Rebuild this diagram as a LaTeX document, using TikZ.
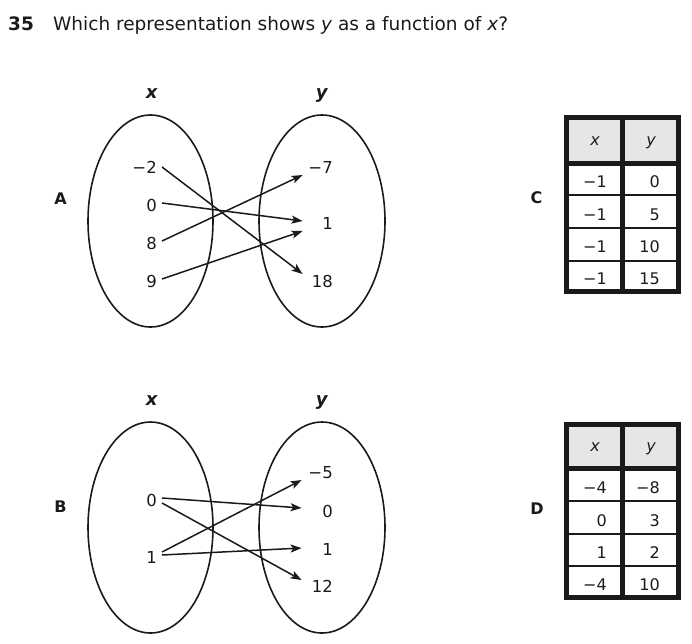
\documentclass[tikz,border=0pt]{standalone}
\usepackage{fontspec}
\setmainfont{DejaVu Sans}
\usetikzlibrary{arrows.meta,calc}
\definecolor{hdrgray}{HTML}{E6E6E6}
\definecolor{ink}{HTML}{1A1A1A}
\begin{document}
\begin{tikzpicture}[x=1pt,y=-1pt,
  every node/.style={inner sep=0pt, text=ink},
  ell/.style={draw=ink, line width=1.6pt},
  arr/.style={draw=ink, line width=1.5pt, -{Stealth[length=11pt,width=8pt,inset=2.5pt]}},
  lval/.style={font=\fontsize{16.5}{19}\selectfont, anchor=east, text height=12pt, text depth=0pt},
  rval/.style={font=\fontsize{16.5}{19}\selectfont, anchor=east, text height=12pt, text depth=0pt, text width=26pt, align=right},
  setlab/.style={font=\fontsize{18}{21}\selectfont\bfseries\itshape, anchor=base},
  optlab/.style={font=\fontsize{16}{19}\selectfont\bfseries},
  tval/.style={font=\fontsize{16}{19}\selectfont, anchor=base east},
  thead/.style={font=\fontsize{16}{19}\selectfont\itshape, anchor=base},
  thick border/.style={draw=ink, line width=5pt},
  thin border/.style={draw=ink, line width=2pt}
]
\useasboundingbox (0,0) rectangle (692,643);

% title
\node[anchor=base west, font=\fontsize{18.5}{22}\selectfont\bfseries] (qnum) at (8,30) {35};
\node[anchor=base west, font=\fontsize{18.5}{22}\selectfont] (qtext) at (53,30) {Which representation shows \textit{y} as a function of \textit{x}?};

% ---------- A ----------
\node[optlab] (labA) at (60.5,199) {A};
\node[setlab] (Ax) at (151.7,98.3) {x};
\node[setlab] (Ay) at (321.7,98.3) {y};
\draw[ell] (150.5,221) ellipse [x radius=62.5pt, y radius=106pt];
\draw[ell] (322,221) ellipse [x radius=63pt, y radius=106pt];

\node[lval] (Am2) at (157,167) {−2};
\node[lval] (A0)  at (157,205) {0};
\node[lval] (A8)  at (157,243) {8};
\node[lval] (A9)  at (157,281) {9};
\node[rval] (Am7) at (333,167) {−7};
\node[rval] (A1)  at (333,223) {1};
\node[rval] (A18) at (333,281) {18};

\draw[arr] ([xshift=5pt]Am2.east) -- ([xshift=-4pt,yshift=7pt]A18.west);
\draw[arr] ([xshift=5pt,yshift=2pt]A0.east) -- ([xshift=-4pt,yshift=2pt]A1.west);
\draw[arr] ([xshift=5pt,yshift=2pt]A8.east) -- ([xshift=-4pt,yshift=-8pt]Am7.west);
\draw[arr] ([xshift=5pt,yshift=2pt]A9.east) -- ([xshift=-4pt,yshift=-8pt]A1.west);

% ---------- B ----------
\node[optlab] (labB) at (60.5,507) {B};
\node[setlab] (Bx) at (151.7,405) {x};
\node[setlab] (By) at (321.7,405) {y};
\draw[ell] (150.5,527.5) ellipse [x radius=62.5pt, y radius=105.5pt];
\draw[ell] (322,527.5) ellipse [x radius=63pt, y radius=105.5pt];

\node[lval] (B0) at (157,500) {0};
\node[lval] (B1) at (157,557) {1};
\node[rval] (Bm5) at (333,472) {−5};
\node[rval] (Bz)  at (333,511) {0};
\node[rval] (Bo)  at (333,549) {1};
\node[rval] (B12) at (333,586) {12};

\draw[arr] ([xshift=5pt,yshift=2pt]B0.east) -- ([xshift=-5pt,yshift=3pt]Bz.west);
\draw[arr] ([xshift=5pt,yshift=-3pt]B0.east) -- ([xshift=-5pt,yshift=6pt]B12.west);
\draw[arr] ([xshift=5pt,yshift=5pt]B1.east) -- ([xshift=-5pt,yshift=-8pt]Bm5.west);
\draw[arr] ([xshift=5pt,yshift=2pt]B1.east) -- ([xshift=-5pt,yshift=1pt]Bo.west);

% ---------- C ----------
\node[optlab] (labC) at (536.5,198) {C};
\fill[hdrgray] (569,120) rectangle (677,161);
\draw[thin border] (566.5,195) -- (678.5,195);
\draw[thin border] (566.5,228) -- (678.5,228);
\draw[thin border] (566.5,261) -- (678.5,261);
\draw[thick border] (566.5,163.5) -- (678.5,163.5);
\draw[thick border] (622.5,117.5) -- (622.5,291.5);
\draw[thick border] (566.5,117.5) rectangle (678.5,291.5);
\node[thead] (Chx) at (595,145) {x};
\node[thead] (Chy) at (651,145) {y};
\node[tval] (Cx1) at (607,187) {−1};
\node[tval] (Cy1) at (660,187) {0};
\node[tval] (Cx2) at (607,220) {−1};
\node[tval] (Cy2) at (660,220) {5};
\node[tval] (Cx3) at (607,252) {−1};
\node[tval] (Cy3) at (660,252) {10};
\node[tval] (Cx4) at (607,284) {−1};
\node[tval] (Cy4) at (660,284) {15};

% ---------- D ----------
\node[optlab] (labD) at (537,508.5) {D};
\fill[hdrgray] (569,427) rectangle (677,466);
\draw[thin border] (566.5,501) -- (678.5,501);
\draw[thin border] (566.5,534) -- (678.5,534);
\draw[thin border] (566.5,566) -- (678.5,566);
\draw[thick border] (566.5,468.5) -- (678.5,468.5);
\draw[thick border] (622.5,424.5) -- (622.5,597.5);
\draw[thick border] (566.5,424.5) rectangle (678.5,597.5);
\node[thead] (Dhx) at (595,451) {x};
\node[thead] (Dhy) at (651,451) {y};
\node[tval] (Dx1) at (607,493) {−4};
\node[tval] (Dy1) at (660,493) {−8};
\node[tval] (Dx2) at (607,526) {0};
\node[tval] (Dy2) at (660,526) {3};
\node[tval] (Dx3) at (607,558) {1};
\node[tval] (Dy3) at (660,558) {2};
\node[tval] (Dx4) at (607,590) {−4};
\node[tval] (Dy4) at (660,590) {10};
\end{tikzpicture}
\end{document}
